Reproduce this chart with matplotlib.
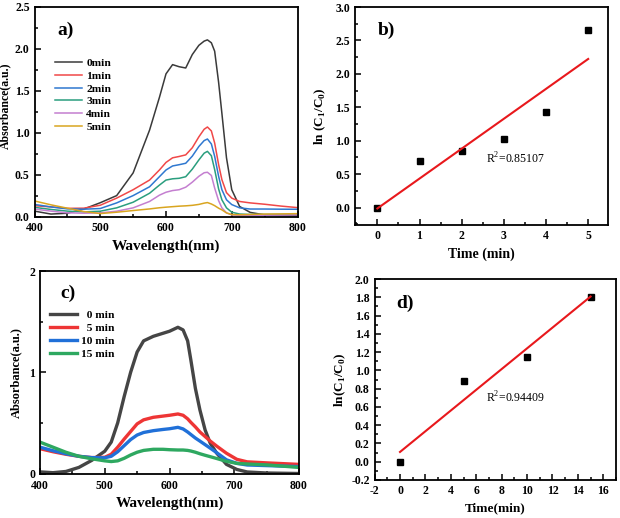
import numpy as np
import matplotlib
matplotlib.use("Agg")
import matplotlib.pyplot as plt
from matplotlib.ticker import MultipleLocator, FormatStrFormatter

plt.rcParams['font.family'] = ['Liberation Serif', 'DejaVu Serif']
plt.rcParams['mathtext.fontset'] = 'custom'
plt.rcParams['mathtext.rm'] = 'Liberation Serif'
plt.rcParams['mathtext.bf'] = 'Liberation Serif:bold'
plt.rcParams['axes.unicode_minus'] = False

# ---------------- Panel a data ----------------
wl_a = [400, 425, 450, 475, 500, 525, 550, 575, 590, 600, 610, 620, 630, 640, 650, 658, 663, 669, 674, 680, 685, 692, 700, 712, 728, 750, 775, 800]
abs_a_0 = [0.065, 0.03, 0.04, 0.09, 0.165, 0.25, 0.52, 1.03, 1.42, 1.70, 1.81, 1.785, 1.77, 1.93, 2.04, 2.09, 2.105, 2.07, 1.97, 1.60, 1.23, 0.70, 0.32, 0.12, 0.05, 0.02, 0.012, 0.01]
abs_a_1 = [0.13, 0.115, 0.098, 0.10, 0.135, 0.22, 0.32, 0.435, 0.555, 0.645, 0.70, 0.716, 0.735, 0.82, 0.95, 1.04, 1.067, 1.02, 0.876, 0.62, 0.44, 0.285, 0.22, 0.18, 0.163, 0.147, 0.125, 0.107]
abs_a_2 = [0.145, 0.115, 0.092, 0.088, 0.096, 0.163, 0.25, 0.355, 0.475, 0.555, 0.603, 0.618, 0.635, 0.72, 0.835, 0.905, 0.924, 0.865, 0.718, 0.48, 0.32, 0.2, 0.143, 0.104, 0.09, 0.09, 0.088, 0.087]
abs_a_3 = [0.11, 0.085, 0.065, 0.056, 0.064, 0.104, 0.171, 0.278, 0.375, 0.435, 0.45, 0.456, 0.475, 0.565, 0.675, 0.755, 0.777, 0.725, 0.56, 0.33, 0.2, 0.104, 0.052, 0.03, 0.025, 0.025, 0.026, 0.028]
abs_a_4 = [0.09, 0.065, 0.045, 0.04, 0.044, 0.064, 0.104, 0.18, 0.255, 0.29, 0.31, 0.32, 0.35, 0.41, 0.48, 0.522, 0.528, 0.49, 0.34, 0.19, 0.104, 0.044, 0.02, 0.015, 0.015, 0.017, 0.018, 0.02]
abs_a_5 = [0.186, 0.14, 0.10, 0.06, 0.036, 0.052, 0.072, 0.091, 0.105, 0.112, 0.118, 0.124, 0.128, 0.134, 0.145, 0.16, 0.167, 0.15, 0.13, 0.10, 0.08, 0.044, 0.024, 0.022, 0.025, 0.03, 0.032, 0.035]
labels_a = ['0min', '1min', '2min', '3min', '4min', '5min']
colors_a = ['#3a3a3a', '#f04848', '#2f78d0', '#2a9e7e', '#c47fd0', '#d9a520']

# ---------------- Panel b data ----------------
time_b = [0, 1, 2, 3, 4, 5]
lnc_b = [0.0, 0.69, 0.84, 1.02, 1.43, 2.65]
r2_b = '0.85107'

# ---------------- Panel c data ----------------
wl_c = [400, 420, 440, 460, 480, 500, 510, 520, 530, 540, 550, 560, 575, 590, 600, 613, 621, 628, 633, 640, 647, 655, 663, 673, 688, 704, 720, 750, 800]
abs_c_0 = [0.016, 0.008, 0.02, 0.06, 0.13, 0.22, 0.31, 0.50, 0.76, 1.0, 1.2, 1.31, 1.355, 1.385, 1.405, 1.444, 1.418, 1.31, 1.12, 0.84, 0.627, 0.43, 0.298, 0.2, 0.09, 0.04, 0.015, 0.005, 0.0]
abs_c_5 = [0.245, 0.215, 0.19, 0.17, 0.157, 0.16, 0.19, 0.26, 0.34, 0.415, 0.49, 0.53, 0.555, 0.567, 0.575, 0.588, 0.575, 0.54, 0.505, 0.46, 0.41, 0.365, 0.32, 0.27, 0.2, 0.14, 0.115, 0.105, 0.09]
abs_c_10 = [0.26, 0.225, 0.195, 0.17, 0.157, 0.155, 0.17, 0.215, 0.275, 0.335, 0.38, 0.405, 0.423, 0.435, 0.442, 0.456, 0.44, 0.41, 0.385, 0.35, 0.32, 0.285, 0.25, 0.205, 0.135, 0.1, 0.084, 0.078, 0.068]
abs_c_15 = [0.31, 0.26, 0.21, 0.17, 0.145, 0.125, 0.118, 0.125, 0.15, 0.183, 0.21, 0.228, 0.239, 0.239, 0.235, 0.232, 0.232, 0.228, 0.222, 0.21, 0.195, 0.18, 0.166, 0.148, 0.12, 0.1, 0.094, 0.085, 0.06]
labels_c = ['  0 min', '  5 min', '10 min', '15 min']
colors_c = ['#454545', '#ee3535', '#2070d8', '#2ea860']

# ---------------- Panel d data ----------------
time_d = [0, 5, 10, 15]
lnc_d = [0.0, 0.88, 1.15, 1.80]
r2_d = '0.94409'

W, H = 620, 518
fig = plt.figure(figsize=(W / 100, H / 100), dpi=100)


def rect(l, r, t, b):
    return [l / W, 1 - b / H, (r - l) / W, (b - t) / H]


def style(ax):
    for s in ax.spines.values():
        s.set_linewidth(1.3)
    ax.tick_params(which='both', direction='in', top=False, right=False,
                   labelsize=8.5, width=1.1)
    ax.tick_params(which='major', length=4)
    ax.tick_params(which='minor', length=2.2)
    for lab in ax.get_xticklabels() + ax.get_yticklabels():
        lab.set_fontweight('bold')


# ---- a ----
ax = fig.add_axes(rect(34.5, 297.5, 6.7, 217))
series_a = [abs_a_0, abs_a_1, abs_a_2, abs_a_3, abs_a_4, abs_a_5]
for ys, lab, c in zip(series_a, labels_a, colors_a):
    ax.plot(wl_a, ys, color=c, lw=1.1, label=lab)
ax.set_xlim(400, 800)
ax.set_ylim(-0.005, 2.5)
ax.xaxis.set_major_locator(MultipleLocator(100))
ax.xaxis.set_minor_locator(MultipleLocator(50))
ax.yaxis.set_major_locator(MultipleLocator(0.5))
ax.yaxis.set_minor_locator(MultipleLocator(0.25))
ax.yaxis.set_major_formatter(FormatStrFormatter('%.1f'))
style(ax)
ax.set_xlabel('Wavelength(nm)', fontsize=11, fontweight='bold')
ax.set_ylabel('Absorbance(a.u.)', fontsize=8.5, fontweight='bold')
ax.xaxis.set_label_coords(0.5, -0.105)
ax.yaxis.set_label_coords(-0.088, 0.53)
ax.text(0.12, 0.889, 'a)', transform=ax.transAxes, fontsize=14, fontweight='bold', ha='center', va='center')
ax.legend(loc='upper left', bbox_to_anchor=(0.078, 0.756), frameon=False,
          borderpad=0, borderaxespad=0, handlelength=2.4, handletextpad=0.35,
          labelspacing=0.25, prop={'weight': 'bold', 'size': 8.2})

# ---- b ----
ax = fig.add_axes(rect(355, 608, 7, 225))
ax.plot(time_b, lnc_b, 's', color='black', ms=4)
kb = np.polyfit(time_b, lnc_b, 1)
xb = np.array([time_b[0], time_b[-1]])
ax.plot(xb, np.polyval(kb, xb), color='#e8181c', lw=1.5)
ax.set_xlim(-0.53, 5.47)
ax.set_ylim(-0.26, 3.0)
ax.xaxis.set_major_locator(MultipleLocator(1))
ax.xaxis.set_minor_locator(MultipleLocator(0.5))
ax.yaxis.set_major_locator(MultipleLocator(0.5))
ax.yaxis.set_minor_locator(MultipleLocator(0.25))
ax.yaxis.set_major_formatter(FormatStrFormatter('%.1f'))
style(ax)
ax.set_xlabel('Time (min)', fontsize=10, fontweight='bold')
ax.set_ylabel(r'ln (C$_\mathbf{1}$/C$_\mathbf{0}$)', fontsize=9.5, fontweight='bold')
ax.xaxis.set_label_coords(0.5, -0.105)
ax.yaxis.set_label_coords(-0.107, 0.5)
ax.text(0.125, 0.894, 'b)', transform=ax.transAxes, fontsize=14, fontweight='bold', ha='center', va='center')
ax.text(2.58, 0.73, r'R$^{2}$=' + r2_b, fontsize=8.5, ha='left', va='center')

# ---- c ----
ax = fig.add_axes(rect(40, 299, 271, 473.5))
series_c = [abs_c_0, abs_c_5, abs_c_10, abs_c_15]
for ys, lab, c in zip(series_c, labels_c, colors_c):
    ax.plot(wl_c, ys, color=c, lw=2.4, label=lab)
ax.set_xlim(400, 800)
ax.set_ylim(0, 2)
ax.xaxis.set_major_locator(MultipleLocator(100))
ax.xaxis.set_minor_locator(MultipleLocator(50))
ax.yaxis.set_major_locator(MultipleLocator(1))
ax.yaxis.set_minor_locator(MultipleLocator(0.5))
style(ax)
ax.tick_params(axis='x', which='major', pad=5)
ax.set_xlabel('Wavelength(nm)', fontsize=11, fontweight='bold')
ax.set_ylabel('Absorbance(a.u.)', fontsize=9, fontweight='bold')
ax.xaxis.set_label_coords(0.5, -0.115)
ax.yaxis.set_label_coords(-0.068, 0.5)
ax.text(0.108, 0.89, 'c)', transform=ax.transAxes, fontsize=14, fontweight='bold', ha='center', va='center')
ax.legend(loc='upper left', bbox_to_anchor=(0.039, 0.807), frameon=False,
          borderpad=0, borderaxespad=0, handlelength=2.4, handletextpad=0.3,
          labelspacing=0.25, prop={'weight': 'bold', 'size': 8.2})

# ---- d ----
ax = fig.add_axes(rect(374.6, 616, 279, 480))
ax.plot(time_d, lnc_d, 's', color='black', ms=4)
kd = np.polyfit(time_d, lnc_d, 1)
xd = np.array([time_d[0], time_d[-1]])
ax.plot(xd, np.polyval(kd, xd), color='#e8181c', lw=1.5)
ax.set_xlim(-2, 17)
ax.set_ylim(-0.2, 2.0)
ax.xaxis.set_major_locator(MultipleLocator(2))
ax.xaxis.set_minor_locator(MultipleLocator(1))
ax.yaxis.set_major_locator(MultipleLocator(0.2))
ax.yaxis.set_minor_locator(MultipleLocator(0.1))
ax.yaxis.set_major_formatter(FormatStrFormatter('%.1f'))
style(ax)
ax.set_xlabel('Time(min)', fontsize=9.5, fontweight='bold')
ax.set_ylabel(r'ln(C$_\mathbf{1}$/C$_\mathbf{0}$)', fontsize=9.5, fontweight='bold')
ax.xaxis.set_label_coords(0.5, -0.11)
ax.yaxis.set_label_coords(-0.11, 0.5)
ax.text(0.126, 0.879, 'd)', transform=ax.transAxes, fontsize=14, fontweight='bold', ha='center', va='center')
ax.text(6.77, 0.70, r'R$^{2}$=' + r2_d, fontsize=8.5, ha='left', va='center')

fig.savefig('out.png', dpi=100)
